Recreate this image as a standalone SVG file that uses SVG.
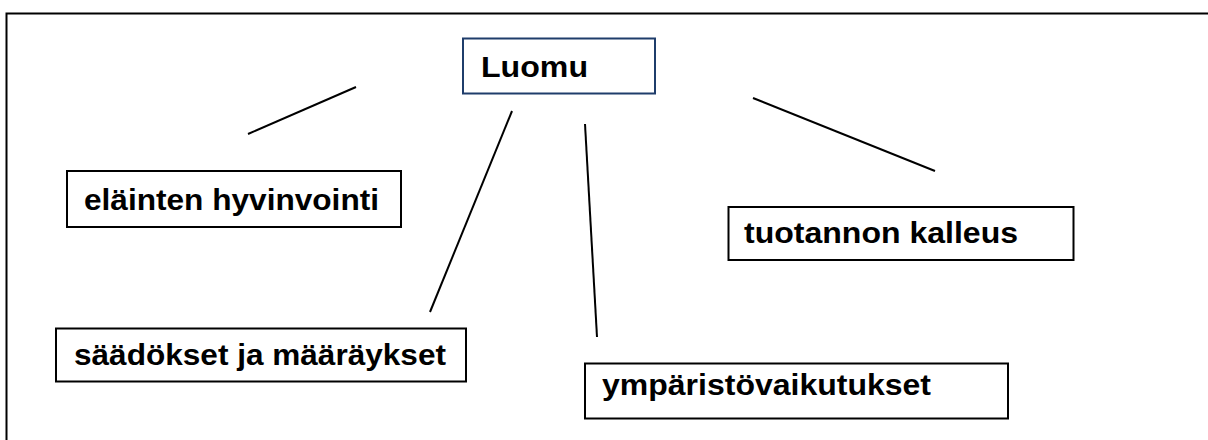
<svg xmlns="http://www.w3.org/2000/svg" width="1208" height="440" viewBox="0 0 1208 440">
<style>
.box{fill:#fff;stroke:#000;stroke-width:2}
.main{fill:#fff;stroke:#1f3d6b;stroke-width:2}
.lbl{font-family:"Liberation Sans",Arial,sans-serif;font-weight:bold;font-size:30px;fill:#000}
.con line{stroke:#000;stroke-width:2}
</style>
<rect width="1208" height="440" fill="#fff"/>
<path d="M6.5,440 V13.5 H1210" fill="none" stroke="#000" stroke-width="2"/>
<g id="connectors" class="con">
<line x1="248" y1="134" x2="356" y2="87"/>
<line x1="512" y1="111" x2="430" y2="312"/>
<line x1="585" y1="124" x2="597" y2="337"/>
<line x1="753" y1="98" x2="935" y2="171"/>
</g>
<g id="luomu">
<rect class="main" x="463" y="38.5" width="192" height="55"/>
<text class="lbl" x="481" y="77" textLength="107" lengthAdjust="spacingAndGlyphs">Luomu</text>
</g>
<g id="elainten">
<rect class="box" x="67" y="171" width="334" height="56"/>
<text class="lbl" x="84" y="210" textLength="295" lengthAdjust="spacingAndGlyphs">eläinten hyvinvointi</text>
</g>
<g id="saadokset">
<rect class="box" x="56" y="328.5" width="410" height="53"/>
<text class="lbl" x="74" y="365" textLength="372" lengthAdjust="spacingAndGlyphs">säädökset ja määräykset</text>
</g>
<g id="ymparisto">
<rect class="box" x="585" y="363.5" width="423" height="55"/>
<text class="lbl" x="602" y="395" textLength="329" lengthAdjust="spacingAndGlyphs">ympäristövaikutukset</text>
</g>
<g id="tuotannon">
<rect class="box" x="728.5" y="207" width="345" height="53"/>
<text class="lbl" x="744" y="243" textLength="274" lengthAdjust="spacingAndGlyphs">tuotannon kalleus</text>
</g>
</svg>
